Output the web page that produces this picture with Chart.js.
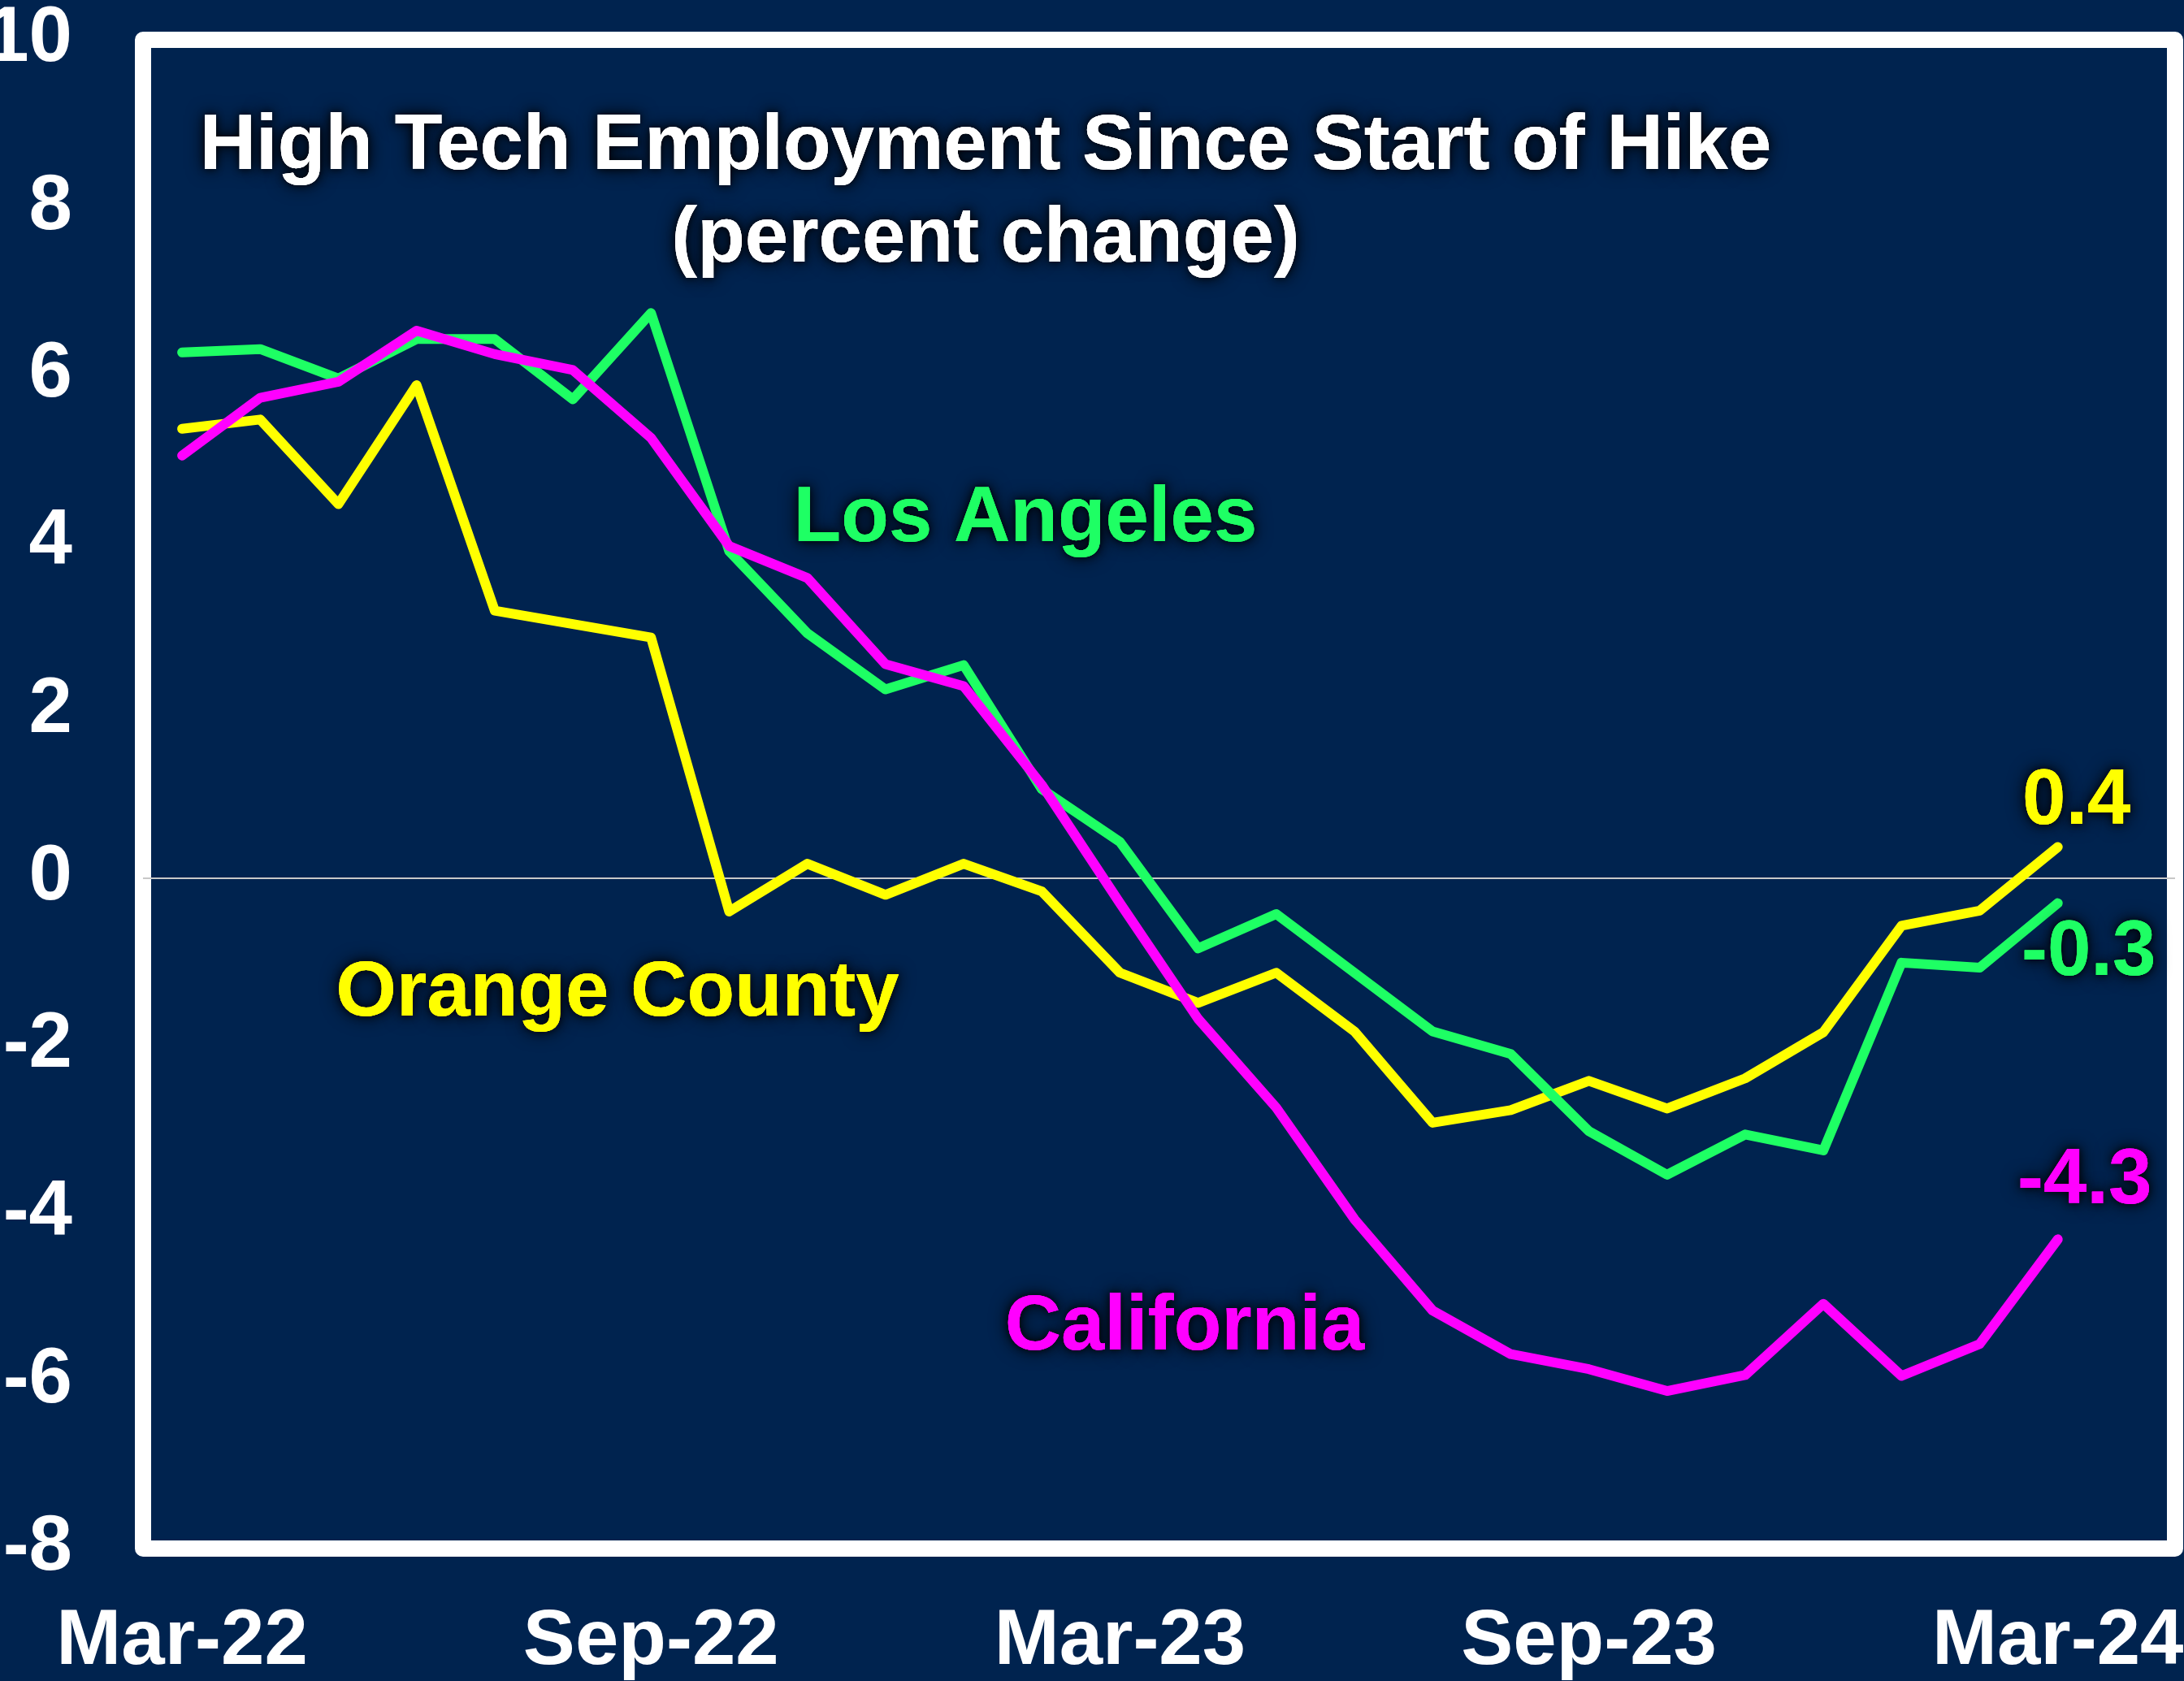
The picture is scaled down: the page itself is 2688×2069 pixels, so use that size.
<!DOCTYPE html>
<html>
<head>
<meta charset="utf-8">
<script src="https://cdn.jsdelivr.net/npm/chart.js@4"></script>
<style>
html,body{margin:0;padding:0;background:#00234F;}
canvas{display:block;}
</style>
</head>
<body>
<canvas id="c" width="2688" height="2069"></canvas>
<script>
// ---- data ----
const months = ['Mar-22','Apr-22','May-22','Jun-22','Jul-22','Aug-22','Sep-22','Oct-22','Nov-22','Dec-22',
  'Jan-23','Feb-23','Mar-23','Apr-23','May-23','Jun-23','Jul-23','Aug-23','Sep-23','Oct-23','Nov-23','Dec-23',
  'Jan-24','Feb-24','Mar-24'];
const xTickIndexes = [0, 6, 12, 18, 24];
const yTickValues = [10, 8, 6, 4, 2, 0, -2, -4, -6, -8];

const california = [5.04, 5.73, 5.92, 6.53, 6.25, 6.06, 5.25, 3.96, 3.58, 2.55, 2.29, 1.11, -0.30,
  -1.68, -2.74, -4.07, -5.16, -5.68, -5.86, -6.12, -5.93, -5.08, -5.94, -5.56, -4.31];
const losAngeles = [6.27, 6.31, 5.96, 6.43, 6.43, 5.71, 6.74, 3.90, 2.92, 2.25, 2.54, 1.06, 0.43,
  -0.84, -0.43, -1.13, -1.83, -2.10, -3.02, -3.54, -3.06, -3.25, -1.01, -1.07, -0.30];
const orangeCounty = [5.36, 5.47, 4.46, 5.88, 3.19, 3.03, 2.87, -0.40, 0.17, -0.20, 0.17, -0.16, -1.13,
  -1.49, -1.13, -1.83, -2.92, -2.77, -2.42, -2.75, -2.39, -1.84, -0.57, -0.39, 0.37];

const seriesNames = ['California', 'Los Angeles', 'Orange County'];
const titleLines = ['High Tech Employment Since Start of Hike', '(percent change)'];

// ---- styles ----
const BG = '#00234F';
const COLORS = { 'California': '#FF00FF', 'Los Angeles': '#1EFF64', 'Orange County': '#FFFF00' };
const FONT = '"Liberation Sans", Arial, Helvetica, sans-serif';

// label placement (pixel positions for annotations)
const seriesLabelPos = {
  'Los Angeles':   { x: 1262, y: 666 },
  'Orange County': { x: 760,  y: 1250 },
  'California':    { x: 1458, y: 1661 }
};
const endLabelOffset = {
  'Orange County': { dx: 23, dy: -28 },
  'Los Angeles':   { dx: 38, dy: 88 },
  'California':    { dx: 33, dy: -44 }
};
const titlePos = { x: 1213, y: [208, 322] };

const seriesValues = { 'California': california, 'Los Angeles': losAngeles, 'Orange County': orangeCounty };

const datasets = seriesNames.map(name => ({
  label: name,
  data: seriesValues[name].map((v, i) => ({ x: i, y: v })),
  borderColor: COLORS[name],
  backgroundColor: COLORS[name],
  borderWidth: 12,
  pointRadius: 0,
  tension: 0,
  borderCapStyle: 'round',
  borderJoinStyle: 'round',
  fill: false
}));

const bgPlugin = {
  id: 'bg',
  beforeDraw(chart) {
    const { ctx, chartArea: a } = chart;
    ctx.save();
    ctx.fillStyle = BG;
    ctx.fillRect(0, 0, chart.width, chart.height);
    ctx.strokeStyle = '#FFFFFF';
    ctx.lineWidth = 20;
    ctx.lineJoin = 'round';
    ctx.strokeRect(a.left, a.top, a.right - a.left, a.bottom - a.top);
    ctx.restore();
  }
};

function glowText(ctx, text, x, y, color) {
  ctx.save();
  ctx.font = 'bold 96px ' + FONT;
  ctx.textAlign = 'center';
  ctx.textBaseline = 'alphabetic';
  ctx.shadowColor = 'rgba(0,0,0,0.9)';
  ctx.shadowBlur = 22;
  ctx.fillStyle = color;
  ctx.fillText(text, x, y);
  ctx.shadowBlur = 10;
  ctx.fillText(text, x, y);
  ctx.shadowColor = 'transparent';
  ctx.shadowBlur = 0;
  ctx.fillText(text, x, y);
  ctx.restore();
}

const labelPlugin = {
  id: 'labels',
  afterDatasetsDraw(chart) {
    const { ctx } = chart;
    const xs = chart.scales.x, ys = chart.scales.y;
    titleLines.forEach((t, i) => glowText(ctx, t, titlePos.x, titlePos.y[i], '#FFFFFF'));
    seriesNames.forEach(name => {
      const p = seriesLabelPos[name];
      glowText(ctx, name, p.x, p.y, COLORS[name]);
      const vals = seriesValues[name];
      const last = vals.length - 1;
      const o = endLabelOffset[name];
      const px = xs.getPixelForValue(last) + o.dx;
      const py = ys.getPixelForValue(vals[last]) + o.dy;
      glowText(ctx, vals[last].toFixed(1), px, py, COLORS[name]);
    });
  }
};

function zeroPad(scale) {
  scale.paddingTop = 0; scale.paddingBottom = 0;
  scale.paddingLeft = 0; scale.paddingRight = 0;
}

new Chart(document.getElementById('c'), {
  type: 'line',
  data: { datasets },
  options: {
    responsive: false,
    devicePixelRatio: 1,
    animation: false,
    events: [],
    layout: { padding: { top: 49, right: 11, left: 0, bottom: 0 } },
    plugins: { legend: { display: false }, tooltip: { enabled: false }, title: { display: false } },
    scales: {
      x: {
        type: 'linear',
        min: -0.5,
        max: 25.5,
        afterFit(scale) { scale.height = 163; zeroPad(scale); },
        afterBuildTicks(scale) { scale.ticks = xTickIndexes.map(v => ({ value: v })); },
        grid: { display: false, drawTicks: false },
        border: { display: false },
        ticks: {
          autoSkip: false,
          maxRotation: 0,
          padding: 58,
          color: '#FFFFFF',
          font: { family: FONT, size: 96, weight: 'bold' },
          callback: v => months[v]
        }
      },
      y: {
        min: -8,
        max: 10,
        afterFit(scale) { scale.width = 176; zeroPad(scale); },
        afterBuildTicks(scale) { scale.ticks = yTickValues.map(v => ({ value: v })); },
        grid: {
          drawTicks: false,
          color: c => (c.tick && c.tick.value === 0) ? '#C8C8C8' : 'rgba(0,0,0,0)',
          lineWidth: 2
        },
        border: { display: false },
        ticks: {
          padding: 87,
          color: '#FFFFFF',
          font: { family: FONT, size: 96, weight: 'bold' },
          callback: v => String(v)
        }
      }
    }
  },
  plugins: [bgPlugin, labelPlugin]
});
</script>
</body>
</html>
